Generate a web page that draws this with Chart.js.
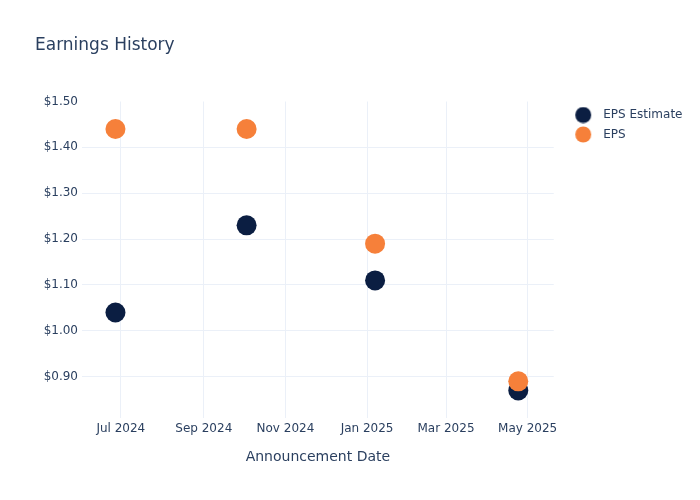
<!DOCTYPE html>
<html>
<head>
<meta charset="utf-8">
<script src="https://cdn.jsdelivr.net/npm/chart.js@4.4.1/dist/chart.umd.min.js"></script>
<style>
html,body{margin:0;padding:0;background:#ffffff;}
#wrap{width:700px;height:500px;}
canvas{display:block;}
</style>
</head>
<body>
<div id="wrap"><canvas id="c" width="700" height="500"></canvas></div>
<script>
// ---- data ----
const announcementDates = ['2024-06-27', '2024-10-03', '2025-01-07', '2025-04-24'];
const epsEstimate = [1.04, 1.23, 1.11, 0.87];
const epsActual = [1.44, 1.44, 1.19, 0.89];
const seriesNames = ['EPS Estimate', 'EPS'];
const xTickDates = ['2024-07-01', '2024-09-01', '2024-11-01', '2025-01-01', '2025-03-01', '2025-05-01'];
const yTickValues = [0.9, 1.0, 1.1, 1.2, 1.3, 1.4, 1.5];
const monthNames = ['Jan','Feb','Mar','Apr','May','Jun','Jul','Aug','Sep','Oct','Nov','Dec'];

// ---- styling ----
const seriesColors = ['#0b1e42', '#f6803a'];
const textColor = '#2a3f5f';
const gridColor = '#ebf0f8';
const fontFamily = "'DejaVu Sans', 'Open Sans', sans-serif";

function toTime(s) {
  const p = s.split('-').map(Number);
  return Date.UTC(p[0], p[1] - 1, p[2]);
}
function fmtMonth(v) {
  const d = new Date(v);
  return monthNames[d.getUTCMonth()] + ' ' + d.getUTCFullYear();
}
function legendMarker(color) {
  const c = document.createElement('canvas');
  c.width = 36; c.height = 17;
  const g = c.getContext('2d');
  g.fillStyle = color;
  g.beginPath();
  g.arc(22, 8.5, 8, 0, Math.PI * 2);
  g.fill();
  return c;
}
const legendMarkers = seriesColors.map(legendMarker);

function points(values) {
  return announcementDates.map((d, i) => ({ x: toTime(d), y: values[i] }));
}

const datasets = [
  {
    label: seriesNames[0],
    data: points(epsEstimate),
    backgroundColor: seriesColors[0],
    borderColor: seriesColors[0],
    borderWidth: 0,
    pointRadius: 10,
    pointHoverRadius: 10,
    order: 1
  },
  {
    label: seriesNames[1],
    data: points(epsActual),
    backgroundColor: seriesColors[1],
    borderColor: seriesColors[1],
    borderWidth: 0,
    pointRadius: 10,
    pointHoverRadius: 10,
    order: 0
  }
];

Chart.defaults.font.family = fontFamily;
Chart.defaults.color = textColor;

new Chart(document.getElementById('c'), {
  type: 'scatter',
  data: { datasets: datasets },
  options: {
    responsive: false,
    animation: false,
    devicePixelRatio: 1,
    events: [],
    layout: { padding: { left: 35, right: 7.5, top: 0, bottom: 0 } },
    plugins: {
      tooltip: { enabled: false },
      title: {
        display: true,
        text: 'Earnings History',
        align: 'start',
        color: textColor,
        font: { size: 17, weight: 'normal', family: fontFamily },
        padding: { top: 35.8, bottom: 45.3 }
      },
      legend: {
        display: true,
        position: 'right',
        align: 'start',
        fullSize: false,
        labels: {
          color: textColor,
          font: { size: 12, family: fontFamily },
          usePointStyle: true,
          pointStyleWidth: 36,
          padding: 7.5,
          sort: (a, b) => a.datasetIndex - b.datasetIndex,
          generateLabels: (chart) => {
            const items = Chart.defaults.plugins.legend.labels.generateLabels(chart);
            items.forEach(it => { it.pointStyle = legendMarkers[it.datasetIndex]; });
            return items;
          }
        }
      }
    },
    scales: {
      x: {
        type: 'linear',
        min: Date.UTC(2024, 5, 2),
        max: Date.UTC(2025, 4, 20, 12),
        border: { display: false },
        grid: { color: gridColor, lineWidth: 1, drawTicks: false },
        afterBuildTicks: (scale) => {
          scale.ticks = xTickDates.map(d => ({ value: toTime(d) }));
        },
        afterFit: (scale) => { scale.height = 82; },
        ticks: {
          autoSkip: false,
          maxRotation: 0,
          padding: 4,
          color: textColor,
          font: { size: 12, family: fontFamily },
          callback: (v) => fmtMonth(v)
        },
        title: {
          display: true,
          text: 'Announcement Date',
          color: textColor,
          font: { size: 14, family: fontFamily },
          padding: { top: 0, bottom: 34.6 }
        }
      },
      y: {
        type: 'linear',
        min: 0.81,
        max: 1.5,
        border: { display: false },
        grid: {
          drawTicks: false,
          lineWidth: 1,
          color: (ctx) => (ctx.tick && ctx.tick.value > 1.499) ? 'rgba(0,0,0,0)' : gridColor
        },
        afterBuildTicks: (scale) => {
          scale.ticks = yTickValues.map(v => ({ value: v }));
        },
        afterFit: (scale) => { scale.width = 47; },
        ticks: {
          padding: 4,
          color: textColor,
          font: { size: 12, family: fontFamily },
          callback: (v) => '$' + Number(v).toFixed(2)
        }
      }
    }
  }
});
</script>
</body>
</html>
